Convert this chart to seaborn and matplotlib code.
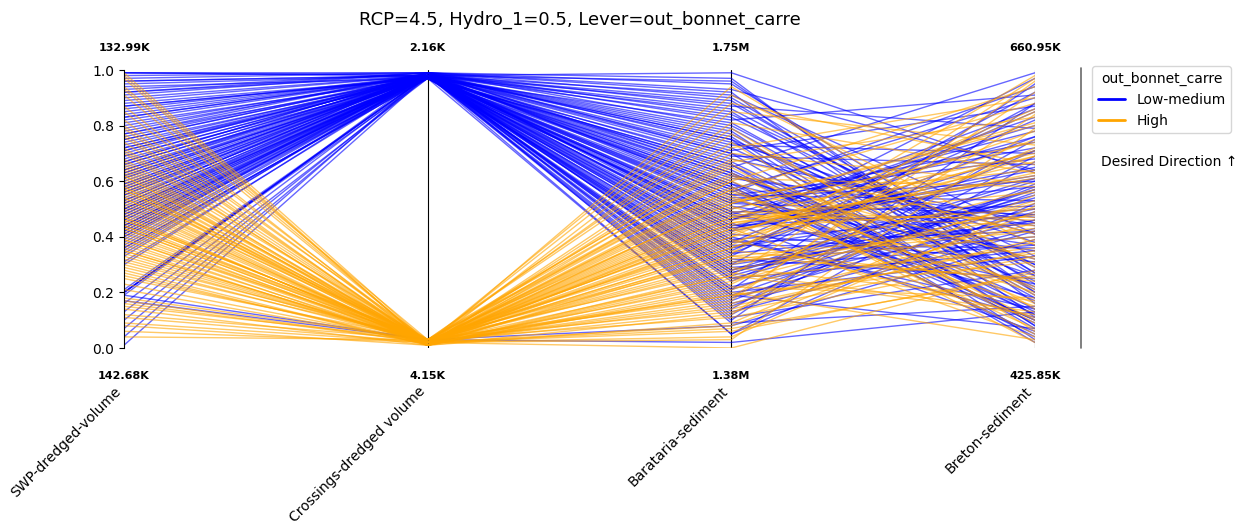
import numpy as np
import pandas as pd
import matplotlib
matplotlib.use("Agg")
import matplotlib.pyplot as plt
from matplotlib.lines import Line2D
import seaborn as sns

axes_names = ["SWP-dredged-volume", "Crossings-dredged volume", "Barataria-sediment", "Breton-sediment"]
top_labels = ["132.99K", "2.16K", "1.75M", "660.95K"]
bottom_labels = ["142.68K", "4.15K", "1.38M", "425.85K"]
groups = ["Low-medium", "High"]

# normalised scores (0 = worst, 1 = best)
swp_low = [0.99, 0.97, 0.99, 0.94, 0.92, 0.96, 0.89, 0.87, 0.91, 0.84, 0.86, 0.81,
           0.79, 0.82, 0.77, 0.74, 0.76, 0.72, 0.70, 0.73, 0.68, 0.66, 0.69, 0.64,
           0.63, 0.65, 0.61, 0.58, 0.60, 0.57, 0.55, 0.59, 0.53, 0.52, 0.56, 0.51,
           0.49, 0.50, 0.47, 0.46, 0.48, 0.44, 0.43, 0.45, 0.41, 0.40, 0.42, 0.38,
           0.37, 0.36, 0.34, 0.33, 0.31, 0.62, 0.71, 0.58, 0.47, 0.53, 0.66, 0.44,
           0.20, 0.20, 0.19, 0.21, 0.20, 0.19, 0.16, 0.13, 0.10, 0.07, 0.04, 0.01,
           0.98, 0.95, 0.88, 0.83, 0.75, 0.67, 0.61, 0.54, 0.50, 0.43, 0.39, 0.17,
           0.96, 0.93, 0.90, 0.87, 0.83, 0.80, 0.78, 0.75, 0.72, 0.69, 0.67, 0.64,
           0.62, 0.59, 0.57, 0.55, 0.52, 0.50, 0.48, 0.46, 0.44, 0.42, 0.40, 0.36,
           0.99, 0.92, 0.85, 0.77, 0.71, 0.63, 0.56, 0.49, 0.41, 0.35, 0.20, 0.30]
crossings_low = [0.98, 0.99, 0.98, 0.97, 0.99, 0.98, 0.98, 0.97, 0.99, 0.98, 0.98, 0.97,
                 0.98, 0.98, 0.99, 0.97, 0.98, 0.98, 0.99, 0.98, 0.97, 0.98, 0.98, 0.99,
                 0.98, 0.97, 0.98, 0.99, 0.98, 0.98, 0.97, 0.98, 0.99, 0.98, 0.97, 0.98,
                 0.98, 0.99, 0.98, 0.97, 0.98, 0.98, 0.99, 0.98, 0.98, 0.97, 0.98, 0.98,
                 0.98, 0.97, 0.98, 0.99, 0.98, 0.98, 0.97, 0.98, 0.98, 0.99, 0.98, 0.98,
                 0.98, 0.98, 0.99, 0.98, 0.97, 0.03, 0.98, 0.97, 0.98, 0.98, 0.99, 0.98,
                 0.99, 0.98, 0.97, 0.98, 0.98, 0.99, 0.98, 0.97, 0.98, 0.98, 0.99, 0.03,
                 0.98, 0.99, 0.98, 0.97, 0.98, 0.98, 0.99, 0.98, 0.97, 0.98, 0.99, 0.98,
                 0.97, 0.98, 0.98, 0.99, 0.98, 0.97, 0.98, 0.98, 0.99, 0.98, 0.98, 0.97,
                 0.99, 0.98, 0.98, 0.97, 0.98, 0.99, 0.98, 0.98, 0.97, 0.98, 0.98, 0.99]
barataria_low = [0.72, 0.55, 0.91, 0.38, 0.64, 0.27, 0.83, 0.46, 0.18, 0.60, 0.99, 0.33,
                 0.51, 0.77, 0.24, 0.68, 0.42, 0.88, 0.15, 0.57, 0.36, 0.74, 0.48, 0.09,
                 0.62, 0.30, 0.85, 0.44, 0.20, 0.70, 0.53, 0.39, 0.95, 0.26, 0.66, 0.12,
                 0.47, 0.80, 0.35, 0.58, 0.22, 0.69, 0.41, 0.05, 0.75, 0.52, 0.31, 0.63,
                 0.86, 0.43, 0.16, 0.56, 0.79, 0.28, 0.50, 0.67, 0.37, 0.93, 0.45, 0.21,
                 0.61, 0.40, 0.73, 0.32, 0.54, 0.08, 0.46, 0.81, 0.25, 0.59, 0.14, 0.38,
                 0.97, 0.49, 0.65, 0.29, 0.78, 0.43, 0.11, 0.57, 0.34, 0.89, 0.19, 0.02,
                 0.58, 0.84, 0.27, 0.49, 0.71, 0.13, 0.92, 0.36, 0.62, 0.21, 0.44, 0.76,
                 0.05, 0.53, 0.39, 0.87, 0.30, 0.66, 0.17, 0.48, 0.82, 0.25, 0.59, 0.42,
                 0.70, 0.34, 0.96, 0.55, 0.10, 0.63, 0.28, 0.75, 0.46, 0.19, 0.52, 0.90]
breton_low = [0.22, 0.68, 0.41, 0.85, 0.13, 0.57, 0.30, 0.76, 0.49, 0.04, 0.63, 0.92,
              0.35, 0.18, 0.71, 0.45, 0.97, 0.26, 0.59, 0.09, 0.53, 0.38, 0.80, 0.15,
              0.44, 0.88, 0.20, 0.62, 0.33, 0.07, 0.74, 0.48, 0.27, 0.55, 0.12, 0.69,
              0.58, 0.24, 0.82, 0.10, 0.46, 0.66, 0.31, 0.52, 0.03, 0.72, 0.40, 0.17,
              0.29, 0.61, 0.43, 0.94, 0.19, 0.50, 0.78, 0.14, 0.36, 0.64, 0.06, 0.57,
              0.47, 0.11, 0.70, 0.25, 0.60, 0.39, 0.86, 0.21, 0.54, 0.32, 0.75, 0.42,
              0.16, 0.51, 0.99, 0.37, 0.08, 0.65, 0.28, 0.90, 0.45, 0.23, 0.56, 0.13,
              0.05, 0.33, 0.60, 0.18, 0.87, 0.42, 0.11, 0.71, 0.26, 0.95, 0.50, 0.08,
              0.67, 0.37, 0.14, 0.79, 0.46, 0.02, 0.58, 0.23, 0.91, 0.35, 0.10, 0.64,
              0.41, 0.76, 0.20, 0.53, 0.88, 0.12, 0.61, 0.30, 0.83, 0.07, 0.48, 0.27]

swp_high = [0.99, 0.98, 0.94, 0.91, 0.87, 0.85, 0.80, 0.79, 0.76, 0.72, 0.71, 0.68,
            0.66, 0.67, 0.63, 0.62, 0.60, 0.59, 0.57, 0.55, 0.56, 0.52, 0.51, 0.49,
            0.48, 0.46, 0.45, 0.43, 0.42, 0.40, 0.39, 0.37, 0.36, 0.34, 0.33, 0.31,
            0.30, 0.28, 0.26, 0.25, 0.23, 0.74, 0.64, 0.54, 0.44, 0.35, 0.61, 0.47,
            0.18, 0.17, 0.16, 0.14, 0.12, 0.11, 0.09, 0.08, 0.06, 0.04, 0.58, 0.82,
            0.65, 0.58, 0.53, 0.50, 0.47, 0.44, 0.41, 0.38, 0.35, 0.32, 0.29, 0.27,
            0.70, 0.62, 0.57, 0.46, 0.39, 0.21, 0.15, 0.97, 0.93, 0.77, 0.54, 0.43]
crossings_high = [0.02, 0.01, 0.03, 0.02, 0.01, 0.02, 0.03, 0.01, 0.02, 0.02, 0.01, 0.03,
                  0.02, 0.01, 0.02, 0.03, 0.02, 0.01, 0.02, 0.02, 0.03, 0.01, 0.02, 0.02,
                  0.01, 0.03, 0.02, 0.02, 0.01, 0.02, 0.03, 0.02, 0.01, 0.02, 0.02, 0.03,
                  0.02, 0.01, 0.02, 0.03, 0.02, 0.02, 0.01, 0.03, 0.02, 0.02, 0.01, 0.02,
                  0.03, 0.02, 0.02, 0.01, 0.03, 0.02, 0.02, 0.01, 0.02, 0.03, 0.02, 0.02,
                  0.02, 0.03, 0.01, 0.02, 0.02, 0.03, 0.02, 0.01, 0.02, 0.02, 0.03, 0.01,
                  0.02, 0.02, 0.01, 0.03, 0.02, 0.02, 0.03, 0.01, 0.02, 0.02, 0.01, 0.02]
barataria_high = [0.45, 0.22, 0.67, 0.31, 0.09, 0.55, 0.38, 0.94, 0.17, 0.49, 0.27, 0.61,
                  0.35, 0.72, 0.13, 0.42, 0.58, 0.24, 0.03, 0.51, 0.33, 0.85, 0.19, 0.46,
                  0.63, 0.28, 0.40, 0.06, 0.53, 0.15, 0.77, 0.36, 0.21, 0.57, 0.44, 0.11,
                  0.30, 0.66, 0.48, 0.18, 0.39, 0.88, 0.25, 0.52, 0.07, 0.43, 0.34, 0.60,
                  0.14, 0.50, 0.26, 0.70, 0.37, 0.00, 0.47, 0.20, 0.81, 0.32, 0.56, 0.41,
                  0.52, 0.19, 0.74, 0.36, 0.08, 0.60, 0.29, 0.45, 0.91, 0.23, 0.65, 0.40,
                  0.16, 0.57, 0.33, 0.79, 0.47, 0.04, 0.62, 0.26, 0.43, 0.68, 0.12, 0.54]
breton_high = [0.62, 0.18, 0.83, 0.40, 0.55, 0.07, 0.71, 0.29, 0.96, 0.46, 0.13, 0.58,
               0.24, 0.90, 0.35, 0.67, 0.02, 0.52, 0.79, 0.15, 0.43, 0.73, 0.31, 0.61,
               0.09, 0.48, 0.86, 0.27, 0.64, 0.38, 0.19, 0.75, 0.53, 0.05, 0.69, 0.33,
               0.57, 0.21, 0.44, 0.92, 0.11, 0.66, 0.36, 0.81, 0.26, 0.50, 0.98, 0.16,
               0.39, 0.74, 0.12, 0.59, 0.85, 0.28, 0.47, 0.03, 0.63, 0.42, 0.22, 0.78,
               0.80, 0.34, 0.06, 0.69, 0.49, 0.94, 0.17, 0.56, 0.37, 0.72, 0.10, 0.63,
               0.45, 0.88, 0.25, 0.14, 0.70, 0.51, 0.32, 0.97, 0.04, 0.41, 0.84, 0.20]

colors = {"Low-medium": "blue", "High": "orange"}


def to_long(cols, group, start):
    wide = pd.DataFrame(dict(zip(axes_names, cols)))
    wide["id"] = range(start, start + len(wide))
    wide["out_bonnet_carre"] = group
    return wide.melt(id_vars=["id", "out_bonnet_carre"], var_name="axis", value_name="score")


low = to_long([swp_low, crossings_low, barataria_low, breton_low], "Low-medium", 0)
high = to_long([swp_high, crossings_high, barataria_high, breton_high], "High", 1000)
df = pd.concat([low, high], ignore_index=True)
df["x"] = df["axis"].map({n: i for i, n in enumerate(axes_names)})

sns.set_style("ticks", {"text.color": "black", "xtick.color": "black",
                        "ytick.color": "black", "axes.edgecolor": "black"})
fig = plt.figure(figsize=(12.38, 5.29), dpi=100)
ax = fig.add_axes([124 / 1238, 1 - 348 / 529, (1035 - 124) / 1238, (348 - 70) / 529])

for i in range(1, len(axes_names)):
    ax.axvline(i, color="black", lw=0.8, zorder=0)

sns.lineplot(data=df, x="x", y="score", hue="out_bonnet_carre", units="id",
             estimator=None, sort=False, hue_order=groups, palette=colors,
             lw=1, alpha=0.6, legend=False, ax=ax)

ax.set_xlim(0, len(axes_names) - 1)
ax.set_ylim(0, 1)
ax.set_yticks(np.arange(0, 1.01, 0.2))
ax.set_yticklabels([f"{v:.1f}" for v in np.arange(0, 1.01, 0.2)], fontsize=10)
ax.set_xticks(range(len(axes_names)))
ax.set_xticklabels(axes_names, rotation=45, ha="right", fontsize=10)
ax.tick_params(axis="x", length=0, pad=26)
ax.set_xlabel("")
ax.set_ylabel("")
sns.despine(ax=ax, bottom=True)

for i in range(len(axes_names)):
    ax.text(i, 1.08, top_labels[i], ha="center", va="center", fontsize=8, fontweight="bold")
    ax.text(i, -0.10, bottom_labels[i], ha="center", va="center", fontsize=8, fontweight="bold")

fig.text(580 / 1238, 1 - 20 / 529, "RCP=4.5, Hydro_1=0.5, Lever=out_bonnet_carre",
         ha="center", va="center", fontsize=13)

fig.add_artist(Line2D([1081 / 1238, 1081 / 1238], [1 - 68 / 529, 1 - 348 / 529],
                      color="dimgray", lw=1.2))

handles = [Line2D([], [], color=colors[g], lw=2) for g in groups]
fig.legend(handles, groups, title="out_bonnet_carre", loc="upper left",
           bbox_to_anchor=(1092 / 1238, 1 - 66 / 529), fontsize=10, title_fontsize=10,
           borderaxespad=0, handlelength=2)
fig.text(1101 / 1238, 1 - 162 / 529, "Desired Direction \u2191", ha="left", va="center", fontsize=10)

fig.savefig("out.png", dpi=100)
